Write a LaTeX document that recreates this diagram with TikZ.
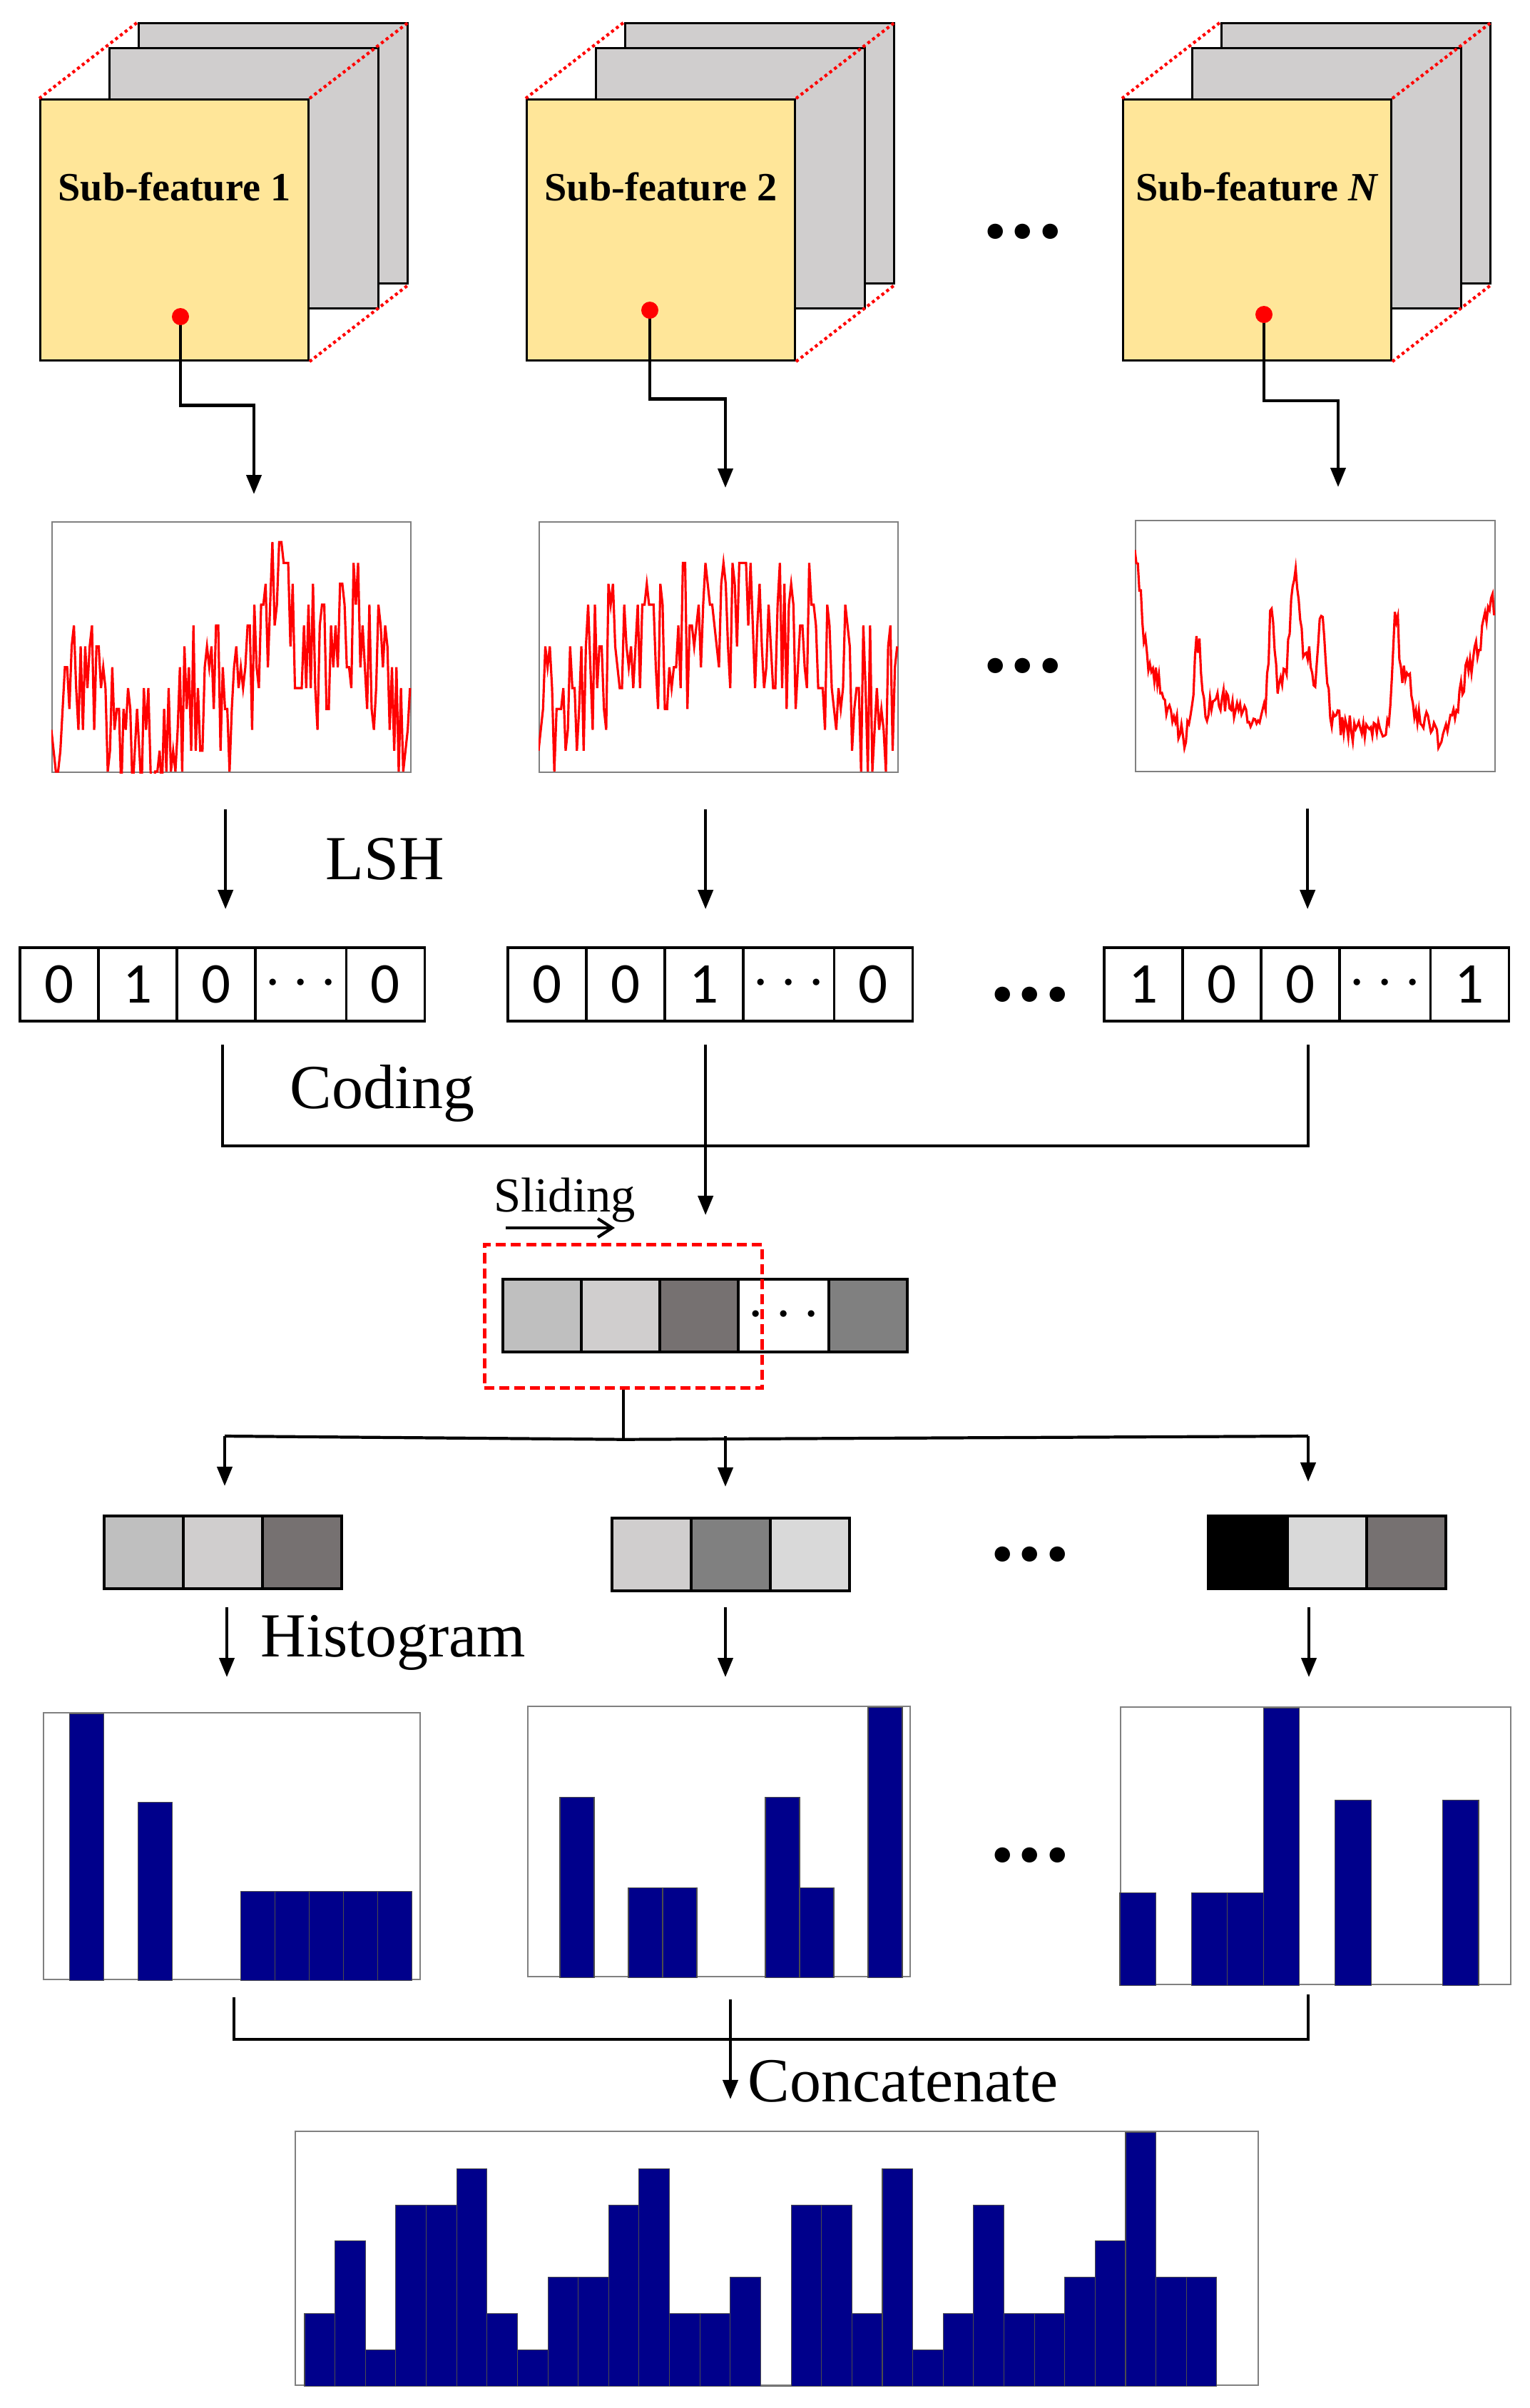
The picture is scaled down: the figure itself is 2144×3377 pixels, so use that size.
\documentclass[tikz,border=0pt]{standalone}
\usepackage{fontspec}
\setmainfont{Liberation Serif}
\newfontfamily\calibri{Carlito}
\usepackage{tikz}
\usetikzlibrary{arrows.meta,positioning,calc}
\definecolor{featyellow}{HTML}{FFE699}
\definecolor{panelgray}{HTML}{D0CECE}
\definecolor{binblue}{HTML}{00008B}
\definecolor{cellA}{HTML}{BFBFBF}
\definecolor{cellB}{HTML}{D0CECE}
\definecolor{cellC}{HTML}{767171}
\definecolor{cellD}{HTML}{808080}
\definecolor{cellE}{HTML}{D9D9D9}

\begin{document}
\begin{tikzpicture}[x=0.01cm, y=-0.01cm,
	declare function={g(\x,\a,\b)=exp(-(\x-\a)*(\x-\a)/(\b*\b));
		sigA(\x)=0.15+0.35*g(\x,0.10,0.06)+0.25*g(\x,0.42,0.09)+0.55*g(\x,0.63,0.09)+0.45*g(\x,0.84,0.12);
		sigB(\x)=0.3+0.28*exp(-((\x-0.47)*(\x-0.47)/0.1444)^3);
		sigN(\x)=0.2+0.67*g(\x,0,0.025)+0.2*g(\x,0.05,0.03)-0.06*g(\x,0.14,0.02)+0.3*g(\x,0.175,0.015)+0.08*g(\x,0.25,0.05)+0.42*g(\x,0.38,0.012)+0.15*g(\x,0.41,0.02)+0.56*g(\x,0.445,0.018)+0.25*g(\x,0.48,0.02)+0.45*g(\x,0.52,0.015)-0.06*g(\x,0.64,0.05)+0.4*g(\x,0.725,0.012)+0.2*g(\x,0.755,0.02)-0.07*g(\x,0.85,0.03)+0.15*g(\x,0.93,0.04)+0.45*g(\x,1,0.05);},
	arrow/.style={line width=1.2pt, -{Triangle[length=0.27cm, width=0.21cm]}},
	link/.style={line width=1.2pt},
	panel/.style={draw, line width=0.8pt, fill=panelgray, minimum width=3.77cm, minimum height=3.65cm, anchor=north west, inner sep=0pt},
	front/.style={panel, fill=featyellow, minimum width=3.76cm, minimum height=3.66cm},
	edge3d/.style={red, line width=1.2pt, dash pattern=on 1.2pt off 1.2pt},
	dotmark/.style={circle, fill=red, minimum size=0.24cm, inner sep=0pt},
	subtext/.style={font=\bfseries\fontsize{16}{16}\selectfont},
	frame/.style={draw=gray, line width=0.6pt, anchor=north west, inner sep=0pt},
	signal/.style={red, line width=0.9pt},
	cell/.style={draw, line width=1pt, minimum width=1.1cm, minimum height=1.03cm, inner sep=0pt, outer sep=0pt, font=\calibri\fontsize{23}{23}\selectfont},
	block/.style={draw, line width=1.1pt, minimum width=1.1cm, minimum height=1.02cm, inner sep=0pt, outer sep=0pt},
	window/.style={draw=red, line width=1.3pt, dash pattern=on 4pt off 2pt, minimum width=3.89cm, minimum height=2.01cm, anchor=north west, inner sep=0pt},
	bin/.style={draw=black!70, line width=0.3pt, fill=binblue},
	caption/.style={font=\fontsize{25}{25}\selectfont, anchor=base west, inner sep=0pt},
	more/.style={font=\calibri\bfseries\fontsize{41}{41}\selectfont, inner sep=0pt}]
	\useasboundingbox (0,0) rectangle (2144,3377);

	% sub-feature stacks
	\foreach \i/\fx/\txt/\dx/\dy/\tx/\ty in {1/55/1/253/444/356/693, 2/737/2/911/435/1017/684, N/1573/\textit{N}/1772/441/1876/683} {
		\node[panel] (back\i) at (\fx+138,31) {};
		\node[panel] (mid\i) at (\fx+97,66) {};
		\node[front] (sf\i) at (\fx,138) {};
		\draw[edge3d] (sf\i.north west) -- (back\i.north west);
		\draw[edge3d] (sf\i.north east) -- (back\i.north east);
		\draw[edge3d] (sf\i.south east) -- (back\i.south east);
		\node[subtext] (sft\i) at ($(sf\i.north)+(0,124)$) {Sub-feature \txt};
		\coordinate (in\i) at (\tx,\ty);
		\draw[arrow] (\dx,\dy) coordinate (dot\i) |- ($(dot\i)!0.5!(in\i)$) -| (in\i);
		\node[dotmark] (dotmark\i) at (dot\i) {};
	}
	\node[more] (more1) at (1434,325) {...};

	% signals
	\node[frame, minimum width=5.03cm, minimum height=3.51cm] (sig1) at (72,731) {};
	\node[frame, minimum width=5.03cm, minimum height=3.51cm] (sig2) at (755,731) {};
	\node[frame, minimum width=5.04cm, minimum height=3.52cm] (sigN) at (1591,729) {};
	\begin{scope}
		\clip (sig1.north west) rectangle (sig1.south east);
		\pgfmathsetseed{11}
		\draw[signal] plot[variable=\x, domain=0:1, samples=160] ({72+503*\x},{1082-351*floor(12*(sigA(\x)+0.28*rand))/12});
	\end{scope}
	\begin{scope}
		\clip (sig2.north west) rectangle (sig2.south east);
		\pgfmathsetseed{23}
		\draw[signal] plot[variable=\x, domain=0:1, samples=160] ({755+503*\x},{1082-351*floor(12*(sigB(\x)+0.32*rand))/12});
	\end{scope}
	\begin{scope}
		\clip (sigN.north west) rectangle (sigN.south east);
		\pgfmathsetseed{5}
		\draw[signal] plot[variable=\x, domain=0:1, samples=240] ({1591+504*\x},{1081-352*(sigN(\x)+0.05*rand)});
	\end{scope}
	\node[more] (more2) at (1434,934) {...};

	% LSH codes
	\foreach \i/\x/\da/\db/\dc/\dd/\off in {1/28/0/1/0/0/13, 2/712/0/0/1/0/2, N/1548/1/0/0/1/10} {
		\node[cell, anchor=north west] (code\i-1) at (\x,1329) {\da};
		\node[cell, right=0pt of code\i-1] (code\i-2) {\db};
		\node[cell, right=0pt of code\i-2] (code\i-3) {\dc};
		\node[cell, right=0pt of code\i-3, minimum width=1.27cm] (code\i-4) {$\cdots$};
		\node[cell, right=0pt of code\i-4] (code\i-5) {\dd};
		\draw[arrow, shorten <=0.51cm, shorten >=0.54cm] ($(sig\i.south -| code\i-3)+(\off,0)$) -- ($(code\i-3.north)+(\off,0)$);
	}
	\node[caption] (lshtxt) at (456,1233) {LSH};
	\node[more] (more3) at (1444,1395) {...};

	% coding
	\coordinate (busL) at ($(code1-3.south)+(9,175)$);
	\draw[link] ($(code1-3.south)+(9,33)$) -- (busL) -| ($(codeN-3.south)+(11,33)$);
	\draw[arrow, shorten <=0.33cm, shorten >=0.39cm] ($(code2-3.south)+(2,0)$) -- ($(code2-3.south |- 0,1743)+(2,0)$);
	\node[caption] (codetxt) at (406,1554) {Coding};

	% sliding window
	\node[block, fill=cellA, anchor=north west] (slide-1) at (705,1794) {};
	\node[block, fill=cellB, right=0pt of slide-1] (slide-2) {};
	\node[block, fill=cellC, right=0pt of slide-2] (slide-3) {};
	\node[block, fill=white, right=0pt of slide-3, minimum width=1.27cm, font=\fontsize{24}{24}\selectfont] (slide-4) {$\cdots$};
	\node[block, fill=cellD, right=0pt of slide-4] (slide-5) {};
	\node[window] (win) at (677,1743) {};
	\node[caption, font=\fontsize{19.5}{19.5}\selectfont] (slidetxt) at (692,1699) {Sliding};
	\draw[line width=1.2pt, -{Straight Barb[length=0.2cm, width=0.26cm]}] ($(slidetxt.base west)+(17,23)$) -- ++(153,0);

	% split into windows
	\draw[link] (win.south) -- ++(0,70) coordinate (fork);
	\coordinate (drop1) at (315,2014);
	\coordinate (drop2) at (1017,2014);
	\coordinate (dropN) at (1834,2014);
	\draw[link] (drop1) -- (fork) -- (dropN);
	\foreach \i/\x/\y/\ca/\cb/\cc/\gap in {1/146/2126/cellA/cellB/cellC/0.42cm, 2/858/2129/cellB/cellD/cellE/0.44cm, N/1694/2126/black/cellE/cellC/0.48cm} {
		\node[block, fill=\ca, minimum width=1.11cm, anchor=north west] (sb\i-1) at (\x,\y) {};
		\node[block, fill=\cb, minimum width=1.11cm, right=0pt of sb\i-1] (sb\i-2) {};
		\node[block, fill=\cc, minimum width=1.11cm, right=0pt of sb\i-2] (sb\i-3) {};
		\draw[arrow, shorten >=\gap] (drop\i) -- (drop\i |- sb\i-1.north);
	}
	\node[more] (more4) at (1444,2180) {...};

	% histograms
	\node[frame, minimum width=5.28cm, minimum height=3.74cm] (hist1) at (60,2401) {};
	\node[frame, minimum width=5.36cm, minimum height=3.79cm] (hist2) at (739,2392) {};
	\node[frame, minimum width=5.47cm, minimum height=3.89cm] (histN) at (1570,2393) {};
	\foreach \k/\h in {0/3,2/2,5/1,6/1,7/1,8/1,9/1}
		\draw[bin] ($(hist1.south west)+(37.5+48*\k,0)$) rectangle ++(48,-124.7*\h);
	\foreach \k/\h in {0/2,2/1,3/1,6/2,7/1,9/3}
		\draw[bin] ($(hist2.south west)+(46+48*\k,0)$) rectangle ++(48,-126.3*\h);
	\foreach \k/\h in {0/1,2/1,3/1,4/3,6/2,9/2}
		\draw[bin] ($(histN.south west)+(50.3*\k,0)$) rectangle ++(50.3,-129.7*\h);
	\foreach \i/\x in {1/318, 2/1017, N/1835} {
		\coordinate (hx\i) at (\x,2254);
		\draw[arrow] (hx\i) -- ++(0,98);
	}
	\node[caption] (histtxt) at (365,2323) {Histogram};
	\node[more] (more5) at (1444,2602) {...};

	% concatenation
	\node[frame, minimum width=13.49cm, minimum height=3.56cm] (histAll) at (413,2988) {};
	\foreach \h [count=\k from 0] in {2,4,1,5,5,6,2,1,3,3,5,6,2,2,3,0,5,5,2,6,1,2,5,2,2,3,4,7,3,3}
		\draw[bin] ($(histAll.south west)+(14+42.63*\k,0)$) rectangle ++(42.63,-50.86*\h);
	\coordinate (cat1) at (328,2801);
	\coordinate (catN) at (1834,2797);
	\coordinate (cat2) at (1024,2804);
	\coordinate (catbus) at (328,2860);
	\draw[link] (cat1) -- (catbus) -- (catbus -| catN) -- (catN);
	\draw[arrow, shorten >=0.44cm] (cat2) -- (cat2 |- histAll.north);
	\node[caption] (cattxt) at (1048,2947) {Concatenate};
\end{tikzpicture}
\end{document}
